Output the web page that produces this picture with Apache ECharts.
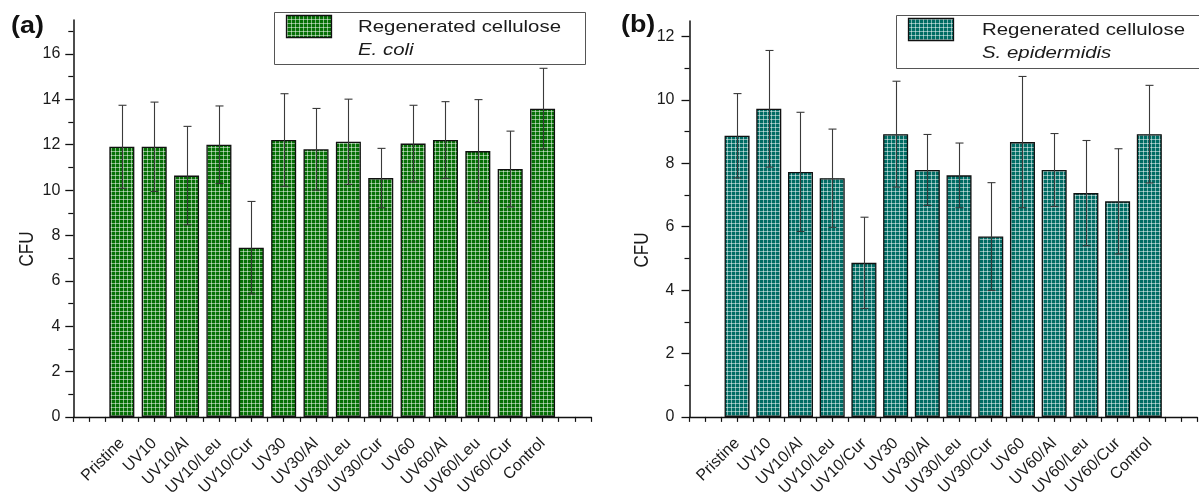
<!DOCTYPE html>
<html>
<head>
<meta charset="utf-8">
<script src="https://cdn.jsdelivr.net/npm/echarts@6/dist/echarts.min.js"></script>
<style>html,body{margin:0;padding:0;background:#fff;}#c{width:1199px;height:499px;}</style>
</head>
<body>
<div id="c"></div>
<script>
const categories = ['Pristine','UV10','UV10/Al','UV10/Leu','UV10/Cur','UV30','UV30/Al','UV30/Leu','UV30/Cur','UV60','UV60/Al','UV60/Leu','UV60/Cur','Control'];
const ecoliMean = [11.91, 11.91, 10.64, 12.00, 7.46, 12.21, 11.80, 12.13, 10.53, 12.05, 12.21, 11.72, 10.93, 13.59];
const ecoliSD   = [1.83, 1.97, 2.17, 1.71, 2.04, 2.04, 1.80, 1.88, 1.31, 1.69, 1.69, 2.27, 1.67, 1.78];
const sepiMean  = [8.87, 9.72, 7.73, 7.53, 4.86, 8.92, 7.79, 7.62, 5.69, 8.67, 7.79, 7.06, 6.80, 8.92];
const sepiSD    = [1.33, 1.84, 1.88, 1.55, 1.44, 1.67, 1.12, 1.02, 1.70, 2.07, 1.15, 1.66, 1.66, 1.54];
const yMajorA = [0, 2, 4, 6, 8, 10, 12, 14, 16];
const yMinorA = [1, 3, 5, 7, 9, 11, 13, 15, 17];
const yMajorB = [0, 2, 4, 6, 8, 10, 12];
const yMinorB = [1, 3, 5, 7, 9, 11];
const legendA = ['Regenerated cellulose', 'E. coli'];
const legendB = ['Regenerated cellulose', 'S. epidermidis'];
const yTitle = 'CFU';

const FONT = '"Liberation Sans", Arial, sans-serif';
const TXT = '#1a1a1a';

function makePattern(base) {
  const c = document.createElement('canvas');
  c.width = 4; c.height = 4;
  const g = c.getContext('2d');
  g.fillStyle = base; g.fillRect(0, 0, 4, 4);
  g.fillStyle = 'rgba(255,255,255,0.5)';
  g.fillRect(3, 0, 1, 4);
  g.fillRect(0, 3, 4, 1);
  return { image: c, repeat: 'repeat' };
}
const patGreen = makePattern('#067006');
const patTeal = makePattern('#006c64');

function xAxisDef(gi) {
  return {
    type: 'value', gridIndex: gi, min: -1.5, max: 14.5, interval: 0.5,
    axisLine: { show: true, onZero: false, lineStyle: { color: '#111', width: 1.3 } },
    axisTick: { show: true, length: 5, lineStyle: { color: '#111', width: 1.2 } },
    splitLine: { show: false },
    axisLabel: {
      rotate: 45, margin: 24, fontSize: 16, fontFamily: FONT, color: TXT, hideOverlap: false,
      showMinLabel: true, showMaxLabel: true,
      formatter: function (v) {
        const i = Math.round(v * 2) / 2;
        return (Number.isInteger(i) && i >= 0 && i < categories.length) ? categories[i] : '';
      }
    }
  };
}
function yAxisMain(gi, max, majors, margin) {
  return {
    type: 'value', gridIndex: gi, min: 0, max: max, position: 'left',
    axisLine: { show: true, onZero: false, lineStyle: { color: '#111', width: 1.5 } },
    axisTick: { show: true, length: 8, customValues: majors, lineStyle: { color: '#111', width: 1.3 } },
    axisLabel: { customValues: majors, fontSize: 16, fontFamily: FONT, color: TXT, margin: margin },
    splitLine: { show: false }
  };
}
function yAxisMinor(gi, max, minors) {
  return {
    type: 'value', gridIndex: gi, min: 0, max: max, position: 'left', offset: 0,
    axisLine: { show: false, onZero: false },
    axisTick: { show: true, length: 5, customValues: minors, lineStyle: { color: '#111', width: 1.2 } },
    axisLabel: { show: false },
    splitLine: { show: false }
  };
}
function barSeries(xi, yi, means, pat) {
  return {
    type: 'bar', xAxisIndex: xi, yAxisIndex: yi, barWidth: 25,
    data: means.map((m, i) => [i, m]),
    itemStyle: { color: pat, borderColor: '#111', borderWidth: 1.3 },
    z: 2
  };
}
function errSeries(xi, yi, means, sds) {
  return {
    type: 'custom', xAxisIndex: xi, yAxisIndex: yi, z: 5,
    data: means.map((m, i) => [i, m - sds[i], m + sds[i]]),
    renderItem: function (params, api) {
      const lo = api.coord([api.value(0), api.value(1)]);
      const hi = api.coord([api.value(0), api.value(2)]);
      const x = Math.round(lo[0]) + 0.5;
      const w = 4;
      const st = { stroke: '#3a3a3a', lineWidth: 1.1 };
      return {
        type: 'group',
        children: [
          { type: 'line', shape: { x1: x, y1: lo[1], x2: x, y2: hi[1] }, style: st },
          { type: 'line', shape: { x1: x - w, y1: hi[1], x2: x + w, y2: hi[1] }, style: st },
          { type: 'line', shape: { x1: x - w, y1: lo[1], x2: x + w, y2: lo[1] }, style: st }
        ]
      };
    }
  };
}
function legendGraphic(bx, by, bw, bh, sx, sy, tx, c1, lines, pat) {
  return [
    { type: 'rect', shape: { x: bx + 0.5, y: by + 0.5, width: bw, height: bh }, style: { fill: '#fff', stroke: '#555', lineWidth: 1 }, z: 10 },
    { type: 'rect', shape: { x: sx + 0.5, y: sy + 0.5, width: 45, height: 22 }, style: { fill: pat, stroke: '#111', lineWidth: 1.3 }, z: 11 },
    { type: 'text', x: tx, y: c1, scaleX: 1.2, z: 11,
      style: { text: lines[0], font: '17px ' + FONT, fill: TXT, verticalAlign: 'middle', align: 'left' } },
    { type: 'text', x: tx, y: c1 + 23, scaleX: 1.2, z: 11,
      style: { text: lines[1], font: 'italic 17px ' + FONT, fill: TXT, verticalAlign: 'middle', align: 'left' } }
  ];
}
function yTitleGraphic(x, y) {
  return { type: 'text', x: x, y: y, rotation: Math.PI / 2, scaleY: 1.15, z: 11,
    style: { text: yTitle, font: '17px ' + FONT, fill: TXT, align: 'center', verticalAlign: 'middle' } };
}

const chart = echarts.init(document.getElementById('c'), null, { renderer: 'canvas' });
chart.setOption({
  animation: false,
  backgroundColor: '#fff',
  grid: [
    { left: 73.3, top: 20, width: 517.8, height: 398 },
    { left: 689.5, top: 21, width: 517.8, height: 397.5 }
  ],
  xAxis: [xAxisDef(0), xAxisDef(1)],
  yAxis: [
    yAxisMain(0, 17.5, yMajorA, 13), yAxisMinor(0, 17.5, yMinorA),
    yAxisMain(1, 12.49, yMajorB, 15), yAxisMinor(1, 12.49, yMinorB)
  ],
  series: [
    barSeries(0, 0, ecoliMean, patGreen), errSeries(0, 0, ecoliMean, ecoliSD),
    barSeries(1, 2, sepiMean, patTeal), errSeries(1, 2, sepiMean, sepiSD)
  ],
  graphic: [
    { type: 'text', x: 11, y: 14, scaleX: 1.12, style: { text: '(a)', font: 'bold 24px ' + FONT, fill: '#111' } },
    { type: 'text', x: 621, y: 13, scaleX: 1.12, style: { text: '(b)', font: 'bold 24px ' + FONT, fill: '#111' } },
    yTitleGraphic(28, 249),
    yTitleGraphic(643, 250)
  ].concat(
    legendGraphic(274, 12, 311, 52, 286, 15, 358, 27.5, legendA, patGreen),
    legendGraphic(896, 15, 320, 53, 908, 18, 982, 30, legendB, patTeal)
  )
});
</script>
</body>
</html>
